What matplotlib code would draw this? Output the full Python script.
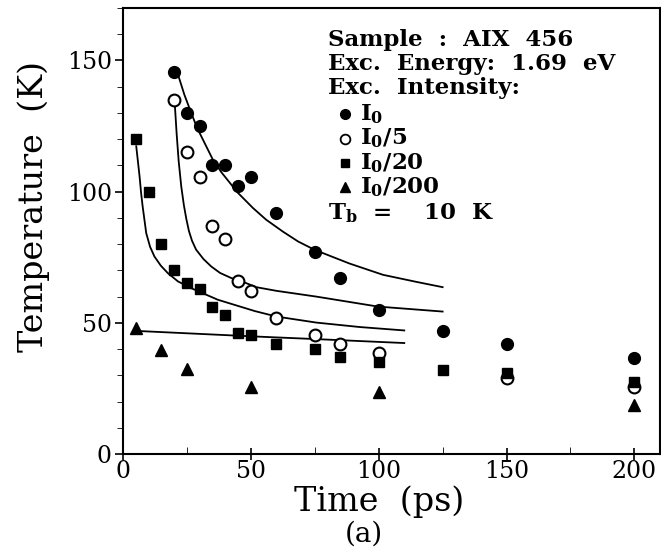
import matplotlib
matplotlib.use("Agg")
import matplotlib.pyplot as plt
from matplotlib.ticker import MultipleLocator

plt.rcParams['font.family'] = 'DejaVu Serif'
plt.rcParams['mathtext.default'] = 'regular'

# measured points (time in ps, temperature in K)
t_i0 = [20, 25, 30, 35, 40, 45, 50, 60, 75, 85, 100, 125, 150, 200]
T_i0 = [145.5, 130, 125, 110, 110, 102, 105.5, 92, 77, 67, 55, 47, 42, 36.5]

t_i5 = [20, 25, 30, 35, 40, 45, 50, 60, 75, 85, 100, 150, 200]
T_i5 = [135, 115, 105.5, 87, 82, 66, 62, 52, 45.5, 42, 38.5, 29, 25.5]

t_i20 = [5, 10, 15, 20, 25, 30, 35, 40, 45, 50, 60, 75, 85, 100, 125, 150, 200]
T_i20 = [120, 100, 80, 70, 65, 63, 56, 53, 46, 45.5, 42, 40, 37, 35, 32, 31, 27.5]

t_i200 = [5, 15, 25, 50, 100, 200]
T_i200 = [48, 39.5, 32.5, 25.5, 23.5, 18.5]

# fitted curves
fit_t_i0 = [21.5, 24, 26.7, 29, 31.9, 35, 38.4, 44.9, 50.8, 56, 62.5, 68.5, 75, 88.6, 101.7, 114.8, 125]
fit_T_i0 = [144.7, 137, 130, 124.3, 118.6, 112.5, 107.5, 99.6, 93.8, 89.3, 84.8, 81.0, 77.8, 72.6, 68.3, 65.6, 63.6]

fit_t_i5 = [20.2, 21.0, 21.8, 22.8, 23.8, 24.8, 25.8, 27.0, 28.6, 31.5, 34.5, 38.0, 42.3, 47.0, 52.1, 60, 75.6, 99.7, 125]
fit_T_i5 = [134.5, 122.0, 111.5, 102.0, 95.0, 89.5, 85.0, 81.3, 77.9, 74.3, 71.5, 69.0, 67.1, 65.6, 63.6, 62.2, 60, 56.2, 54.3]

fit_t_i20 = [5.2, 6.5, 7.1, 7.7, 9.1, 10.6, 12.3, 14.8, 17.5, 21.5, 26.7, 37.1, 51.5, 60, 75.6, 92.6, 110]
fit_T_i20 = [117.3, 105.8, 99.5, 94.4, 84.2, 79.0, 75.3, 71.8, 69, 65.8, 63.2, 58.8, 54.5, 52.4, 50.1, 48.4, 47.1]

fit_t_i200 = [5.8, 51.5, 75.6, 110]
fit_T_i200 = [46.9, 44.8, 43.8, 42.3]

fig = plt.figure(figsize=(6.61, 5.51), dpi=100)
ax = fig.add_axes([0.186, 0.176, 0.8125, 0.8095])

for ft, fT in [(fit_t_i0, fit_T_i0), (fit_t_i5, fit_T_i5),
               (fit_t_i20, fit_T_i20), (fit_t_i200, fit_T_i200)]:
    ax.plot(ft, fT, color='black', lw=1.3)

ax.plot(t_i0, T_i0, 'o', color='black', ms=8.5, ls='none')
ax.plot(t_i5, T_i5, 'o', mfc='white', mec='black', mew=1.5, ms=8.5, ls='none')
ax.plot(t_i20, T_i20, 's', color='black', ms=7.7, ls='none')
ax.plot(t_i200, T_i200, '^', color='black', ms=8.5, ls='none')

ax.set_xlim(0, 210)
ax.set_ylim(0, 170)
ax.xaxis.set_major_locator(MultipleLocator(50))
ax.xaxis.set_minor_locator(MultipleLocator(25))
ax.yaxis.set_major_locator(MultipleLocator(50))
ax.yaxis.set_minor_locator(MultipleLocator(10))
ax.tick_params(axis='both', which='major', labelsize=17, width=1.2, length=6)
ax.tick_params(axis='x', which='major', direction='inout', length=8)
ax.tick_params(axis='x', which='minor', direction='in', length=5)
ax.tick_params(axis='y', which='minor', direction='out', length=4)
ax.tick_params(axis='x', pad=0)
ax.tick_params(axis='y', pad=2)
for s in ax.spines.values():
    s.set_linewidth(1.5)

ax.set_xlabel('Time  (ps)', fontsize=24)
ax.xaxis.set_label_coords(0.477, -0.07)
ax.set_ylabel('Temperature  (K)', fontsize=24)
ax.yaxis.set_label_coords(-0.135, 0.555)
fig.text(0.55, 0.03, '(a)', fontsize=20, ha='center', va='center')

# annotation block
tx = 0.382
kw = dict(transform=ax.transAxes, fontsize=16.5, fontweight='bold', va='center')
ax.text(tx, 0.928, 'Sample  :  AIX  456', **kw)
ax.text(tx, 0.874, 'Exc.  Energy:  1.69  eV', **kw)
ax.text(tx, 0.820, 'Exc.  Intensity:', **kw)
rows = [0.762, 0.707, 0.653, 0.598]
labels = ['I$_0$', 'I$_0$/5', 'I$_0$/20', 'I$_0$/200']
styles = [dict(marker='o', color='black', ms=7),
          dict(marker='o', mfc='white', mec='black', mew=1.3, ms=7),
          dict(marker='s', color='black', ms=6),
          dict(marker='^', color='black', ms=7)]
for y, lab, st in zip(rows, labels, styles):
    ax.plot([0.413], [y], transform=ax.transAxes, ls='none', clip_on=False, **st)
    ax.text(0.441, y, lab, **kw)
ax.text(tx, 0.540, 'T$_b$  =    10  K', **kw)

fig.savefig('out.png', dpi=100)
